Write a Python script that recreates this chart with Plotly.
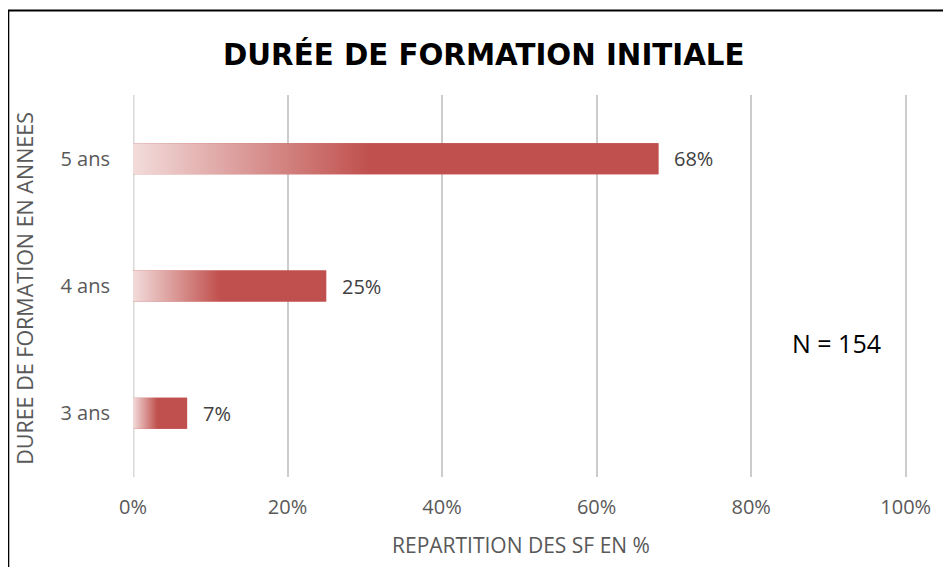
import plotly.graph_objects as go

categories = ["3 ans", "4 ans", "5 ans"]
values = [7, 25, 68]
value_labels = ["7%", "25%", "68%"]
x_ticks = [0, 20, 40, 60, 80, 100]
x_tick_labels = ["0%", "20%", "40%", "60%", "80%", "100%"]
title_text = "DURÉE DE FORMATION INITIALE"
x_title = "REPARTITION DES SF EN %"
y_title = "DUREE DE FORMATION EN ANNEES"
note_text = "N = 154"

FONT = "Open Sans"
RED = "#C0504D"
PALE = "#F2DCDB"
HALF = 0.122

fig = go.Figure()

# real bar trace (solid), overlaid by gradient fill polygons
fig.add_trace(go.Bar(
    x=values, y=list(range(len(categories))), orientation="h",
    width=2 * HALF, marker=dict(color=RED, line=dict(width=0)),
    hoverinfo="skip", showlegend=False,
))

for i, v in enumerate(values):
    fig.add_trace(go.Scatter(
        x=[0, v, v, 0, 0],
        y=[i - HALF, i - HALF, i + HALF, i + HALF, i - HALF],
        mode="lines", fill="toself", line=dict(width=0),
        fillgradient=dict(type="horizontal",
                          colorscale=[[0, PALE], [0.45, RED], [1, RED]]),
        hoverinfo="skip", showlegend=False,
    ))

annotations = []
for i, (v, lab) in enumerate(zip(values, value_labels)):
    annotations.append(dict(x=v, y=i, xref="x", yref="y", text=lab,
                            showarrow=False, xanchor="left", yanchor="middle", xshift=14,
                            font=dict(family=FONT, size=20, color="#404040")))

annotations += [
    dict(x=0.453, y=1.105, xref="paper", yref="paper", text="<b>%s</b>" % title_text,
         xanchor="center", yanchor="middle",
         showarrow=False, font=dict(family="DejaVu Sans", size=29.3, color="#000000")),
    dict(x=0.5, y=-0.179, xref="paper", yref="paper", text=x_title,
         xanchor="center", yanchor="middle",
         showarrow=False, font=dict(family=FONT, size=21, color="#595959")),
    dict(x=-0.1395, y=0.4948, xref="paper", yref="paper", text=y_title, textangle=-90,
         xanchor="center", yanchor="middle",
         showarrow=False, font=dict(family=FONT, size=21.5, color="#595959")),
    dict(x=0.908, y=0.352, xref="paper", yref="paper", text=note_text,
         xanchor="center", yanchor="middle",
         showarrow=False, font=dict(family=FONT, size=25, color="#000000")),
]

fig.update_layout(
    width=943, height=559,
    margin=dict(l=125, r=43, t=87, b=90),
    paper_bgcolor="white", plot_bgcolor="white",
    showlegend=False,
    annotations=annotations,
    shapes=[dict(type="rect", xref="paper", yref="paper",
                 x0=-0.1609, x1=1.1, y0=-0.3, y1=1.2212,
                 line=dict(color="black", width=2), layer="above")],
    xaxis=dict(range=[0, 100.3], tickvals=x_ticks, ticktext=x_tick_labels,
               showgrid=True, gridcolor="#CCCCCC", gridwidth=1.5,
               zeroline=False, showline=False, ticks="",
               ticklabelstandoff=16,
               tickfont=dict(family=FONT, size=20, color="#595959"), fixedrange=True),
    yaxis=dict(range=[-0.5, 2.5], tickvals=list(range(len(categories))), ticktext=categories,
               showgrid=False, zeroline=False, showline=False, ticks="",
               ticklabelstandoff=22,
               tickfont=dict(family=FONT, size=20, color="#595959"), fixedrange=True),
)

# 0% axis line (thicker light grey)
fig.add_vline(x=0, line=dict(color="#D9D9D9", width=3), layer="below")

fig.write_html("out.html")
